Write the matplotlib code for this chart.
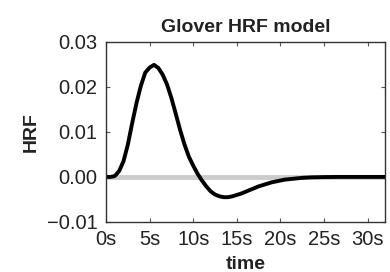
import matplotlib
matplotlib.use('Agg')
import matplotlib.pyplot as plt

plt.rcParams['font.family'] = ['Liberation Sans', 'DejaVu Sans']

# Glover HRF values, every 0.5 s
time_s = [i * 0.5 for i in range(65)]
hrf = [0.0, 0.0, 0.0002, 0.0013, 0.0035, 0.0072, 0.0120, 0.0165, 0.0203, 0.0232,
       0.0243, 0.0249, 0.0242, 0.0227, 0.0205, 0.0175, 0.0140, 0.0104, 0.0072, 0.0045,
       0.0025, 0.0007, -0.0008, -0.0021, -0.0032, -0.0039, -0.0043, -0.0045, -0.0045, -0.0043,
       -0.0040, -0.0037, -0.0033, -0.0029, -0.0025, -0.0021, -0.0018, -0.0015, -0.0012, -0.0010,
       -0.0008, -0.0006, -0.0005, -0.0004, -0.0003, -0.0002, -0.00015, -0.0001, -0.00007, -0.00005,
       -0.00003, -0.00002, -0.00001, 0.0, 0.0, 0.0, 0.0, 0.0, 0.0, 0.0,
       0.0, 0.0, 0.0, 0.0, 0.0]
xticks = [0, 5, 10, 15, 20, 25, 30]
xticklabels = ['0s', '5s', '10s', '15s', '20s', '25s', '30s']
yticks = [-0.01, 0.0, 0.01, 0.02, 0.03]

fig = plt.figure(figsize=(3.9, 2.72), dpi=100)
ax = fig.add_axes([0.272, 0.184, 0.715, 0.662])

ax.axhline(0, color='#cccccc', lw=3.5, zorder=1)
ax.plot(time_s, hrf, color='black', lw=2.8, zorder=2, solid_joinstyle='round')

ax.set_xlim(0, 32)
ax.set_ylim(-0.01, 0.03)
ax.set_xticks(xticks)
ax.set_xticklabels(xticklabels)
ax.set_yticks(yticks)
ax.set_yticklabels(['\u22120.01', '0.00', '0.01', '0.02', '0.03'])
ax.tick_params(direction='in', length=3, width=0.8, color='#555555',
               top=True, right=True, labelsize=14.5, labelcolor='#222222', pad=6)
for s in ax.spines.values():
    s.set_color('#333333')
    s.set_linewidth(1.0)

ax.set_title('Glover HRF model', fontsize=14, fontweight='bold', pad=7, color='#222222')
ax.set_xlabel('time', fontsize=14, fontweight='bold', labelpad=5, color='#222222')
ax.set_ylabel('HRF', fontsize=14, fontweight='bold', labelpad=5, color='#222222')

fig.savefig('out.png', dpi=100)
